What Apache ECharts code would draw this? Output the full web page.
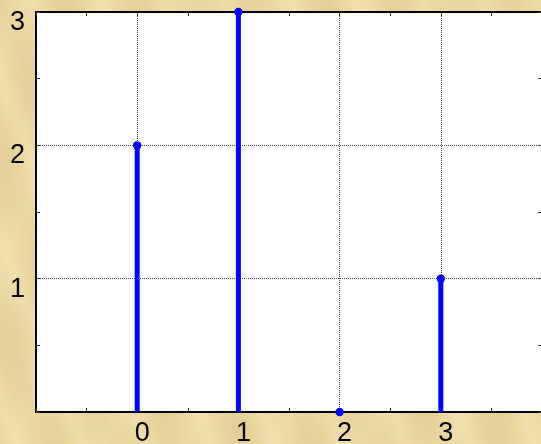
<!DOCTYPE html>
<html>
<head>
<meta charset="utf-8">
<script src="https://cdn.jsdelivr.net/npm/echarts@6/dist/echarts.min.js"></script>
<style>
  html, body { margin: 0; padding: 0; }
  body {
    width: 541px; height: 444px; overflow: hidden;
    background-color: #e9d49c;
    background-image:
      repeating-linear-gradient(68deg, rgba(255,245,208,0) 0px, rgba(255,245,208,0.28) 16px, rgba(255,245,208,0) 32px, rgba(205,175,105,0.08) 46px, rgba(255,245,208,0) 60px),
      repeating-linear-gradient(112deg, rgba(255,245,208,0) 0px, rgba(255,245,208,0.16) 22px, rgba(255,245,208,0) 44px, rgba(200,170,100,0.07) 62px, rgba(255,245,208,0) 80px);
  }
  #chart { width: 541px; height: 444px; }
</style>
</head>
<body>
<div id="chart"></div>
<script>
// Stem plot: sample index n and value x[n]
const nValues = [0, 1, 2, 3];
const xValues = [2, 3, 0, 1];
const xTickLabels = ['0', '1', '2', '3'];
const yTickLabels = ['1', '2', '3'];

const stemColor = '#0000ff';
const labelFont = 'Liberation Sans';
const gridLine = { show: true, lineStyle: { color: '#555', width: 1, type: [1, 1] } };
const tickStyle = { show: true, inside: true, length: 4, lineStyle: { color: '#333' } };
const minorStyle = { show: true, splitNumber: 2, length: 4, lineStyle: { color: '#333' } };
const frameLine = { show: true, onZero: false, lineStyle: { color: '#000', width: 2 } };

const chart = echarts.init(document.getElementById('chart'));

const stemData = nValues.map((n, i) => [n, xValues[i]]);

chart.setOption({
  animation: false,
  grid: {
    left: 36, top: 12, width: 506, height: 400,
    show: true, backgroundColor: '#fff', borderWidth: 0,
    outerBoundsMode: 'none'
  },
  xAxis: [
    {
      type: 'value', min: -1, max: 4, interval: 1, position: 'bottom',
      axisLine: frameLine, axisTick: tickStyle, minorTick: minorStyle,
      splitLine: gridLine,
      axisLabel: {
        color: '#000', fontSize: 27, fontFamily: labelFont,
        margin: 8, padding: [0, 0, 0, 10],
        formatter: v => (xTickLabels.includes(String(v)) ? String(v) : '')
      }
    },
    {
      type: 'value', min: -1, max: 4, interval: 1, position: 'top',
      axisLine: frameLine, axisTick: tickStyle, minorTick: minorStyle,
      splitLine: { show: false }, axisLabel: { show: false }
    }
  ],
  yAxis: [
    {
      type: 'value', min: 0, max: 3, interval: 1, position: 'left',
      axisLine: frameLine, axisTick: tickStyle, minorTick: minorStyle,
      splitLine: gridLine,
      axisLabel: {
        color: '#000', fontSize: 27, fontFamily: labelFont,
        margin: 11, verticalAlign: 'top', lineHeight: 21,
        formatter: v => (yTickLabels.includes(String(v)) ? String(v) : '')
      }
    },
    {
      type: 'value', min: 0, max: 3, interval: 1, position: 'right',
      axisLine: frameLine, axisTick: tickStyle, minorTick: minorStyle,
      splitLine: { show: false }, axisLabel: { show: false }
    }
  ],
  series: [
    {
      type: 'custom',
      xAxisIndex: 0, yAxisIndex: 0,
      clip: false,
      z: 10,
      data: stemData,
      renderItem: function (params, api) {
        const base = api.coord([api.value(0), 0]);
        const top = api.coord([api.value(0), api.value(1)]);
        return {
          type: 'group',
          children: [
            {
              type: 'line',
              shape: { x1: base[0], y1: base[1], x2: top[0], y2: top[1] },
              style: { stroke: stemColor, lineWidth: 5 }
            },
            {
              type: 'circle',
              shape: { cx: top[0], cy: top[1], r: 4.2 },
              style: { fill: stemColor }
            }
          ]
        };
      }
    }
  ]
});
</script>
</body>
</html>
